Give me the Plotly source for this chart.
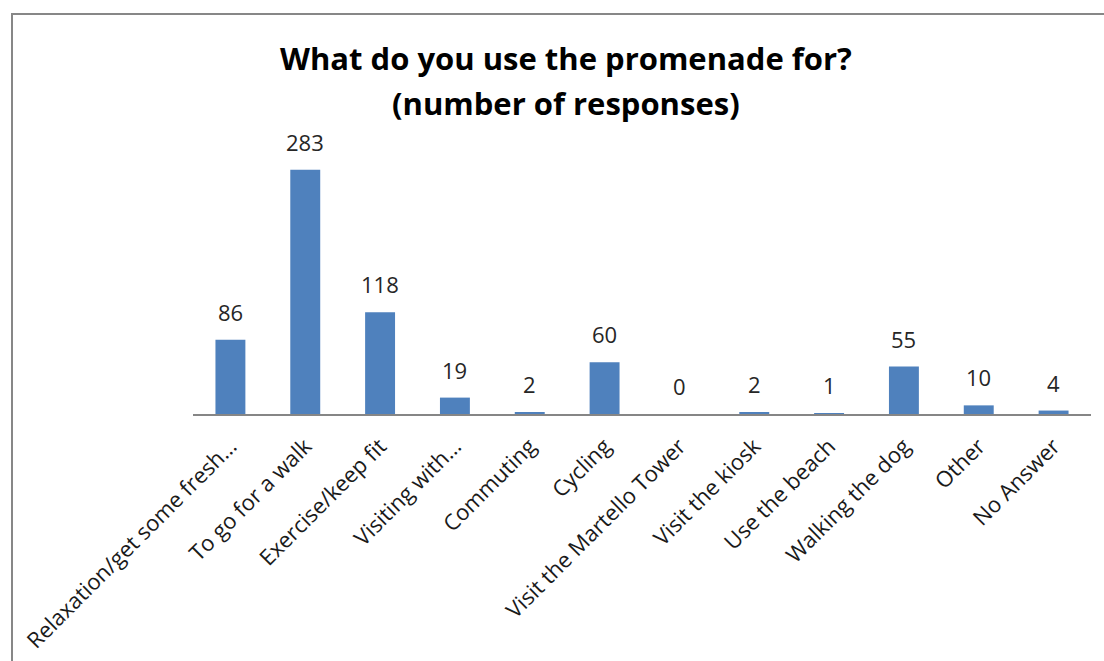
import plotly.graph_objects as go

categories = [
    "Relaxation/get some fresh…",
    "To go for a walk",
    "Exercise/keep fit",
    "Visiting with…",
    "Commuting",
    "Cycling",
    "Visit the Martello Tower",
    "Visit the kiosk",
    "Use the beach",
    "Walking the dog",
    "Other",
    "No Answer",
]
responses = [86, 283, 118, 19, 2, 60, 0, 2, 1, 55, 10, 4]
title_lines = ["What do you use the promenade for?", "(number of responses)"]

W, H = 1104, 661
ML, MR, MT, MB = 193, 13, 155, 247
pw = W - ML - MR
ph = H - MT - MB

def px_to_paper_x(px):
    return (px - ML) / pw

def px_to_paper_y(py):
    return (H - MB - py) / ph

fig = go.Figure(
    go.Bar(
        x=categories,
        y=responses,
        marker=dict(color="#4F81BD", line=dict(width=0)),
        width=0.4,
        cliponaxis=False,
    )
)

for cat, val in zip(categories, responses):
    fig.add_annotation(
        x=cat,
        y=val,
        xref="x",
        yref="y",
        text=str(val),
        showarrow=False,
        yanchor="bottom",
        yshift=11,
        font=dict(family="Open Sans", size=22, color="#262626"),
    )

for line, ypx in zip(title_lines, [58, 103]):
    fig.add_annotation(
        x=px_to_paper_x(566),
        y=px_to_paper_y(ypx),
        xref="paper",
        yref="paper",
        text=f"<b>{line}</b>",
        showarrow=False,
        xanchor="center",
        yanchor="middle",
        font=dict(family="Open Sans", size=31, color="black"),
    )

fig.update_layout(
    width=W,
    height=H,
    margin=dict(l=ML, r=MR, t=MT, b=MB, autoexpand=False),
    paper_bgcolor="white",
    plot_bgcolor="white",
    showlegend=False,
    bargap=0.6,
)

fig.update_xaxes(
    type="category",
    tickangle=-45,
    tickfont=dict(family="Open Sans", size=22, color="#1a1a1a"),
    ticklabelstandoff=9,
    automargin=False,
    showline=True,
    linecolor="#868686",
    linewidth=1.5,
    ticks="",
    showgrid=False,
    zeroline=False,
)
fig.update_yaxes(
    range=[0, 300],
    visible=False,
    showgrid=False,
    zeroline=False,
)

fig.add_shape(
    type="rect",
    xref="paper",
    yref="paper",
    x0=px_to_paper_x(12),
    x1=px_to_paper_x(1120),
    y0=px_to_paper_y(680),
    y1=px_to_paper_y(14),
    line=dict(color="#878787", width=2),
    fillcolor="rgba(0,0,0,0)",
    layer="below",
)

fig.write_html("out.html")
